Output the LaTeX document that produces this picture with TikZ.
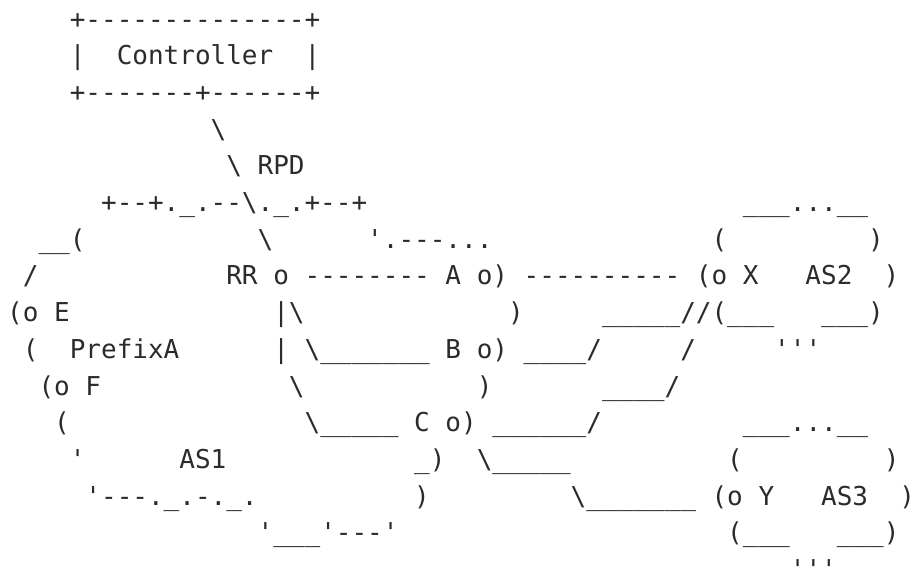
\documentclass[tikz,border=0pt]{standalone}
\usepackage{fontspec}
\newfontfamily\asciifont{DejaVu Sans Mono}[Ligatures=TeXOff]
\newdimen\cwd
\cwd=15.653pt
\newcommand\gap[1]{\hspace*{#1\cwd}}
\newcommand\bs{\textbackslash}
\newcommand\us{\_}
\definecolor{inkgray}{HTML}{2B2B2B}
\begin{document}
\begin{tikzpicture}[x=1pt,y=1pt,
  asciiline/.style={anchor=base west,inner sep=0pt,outer sep=0pt,
    font=\asciifont\fontsize{26}{30}\selectfont,text=inkgray}]
\useasboundingbox (0,0) rectangle (914,-575);
\fill[white] (0,0) rectangle (914,-575);
\begin{scope}[shift={(7.2,-28.3)},x=15.653pt,y=-36.67pt]
\node[asciiline] (r1) at (4,0) {+--------------+};
\node[asciiline] (r2) at (4,1) {|\gap{2}Controller\gap{2}|};
\node[asciiline] (r3) at (4,2) {+-------+------+};
\node[asciiline] (r4) at (13,3) {\bs};
\node[asciiline] (r5) at (14,4) {\bs\gap{1}RPD};
\node[asciiline] (r6) at (6,5) {+--+.\us.--\bs.\us.+--+\gap{24}\us\us\us...\us\us};
\node[asciiline] (r7) at (2,6) {\us\us(\gap{11}\bs\gap{6}'.---...\gap{14}(\gap{9})};
\node[asciiline] (r8) at (1,7) {/\gap{12}RR\gap{1}o\gap{1}--------\gap{1}A\gap{1}o)\gap{1}----------\gap{1}(o\gap{1}X\gap{3}AS2\gap{2})};
\node[asciiline] (r9) at (0,8) {(o\gap{1}E\gap{13}|\bs\gap{13})\gap{5}\us\us\us\us\us//(\us\us\us\gap{3}\us\us\us)};
\node[asciiline] (r10) at (1,9) {(\gap{2}PrefixA\gap{6}|\gap{1}\bs\us\us\us\us\us\us\us\gap{1}B\gap{1}o)\gap{1}\us\us\us\us/\gap{5}/\gap{5}'''};
\node[asciiline] (r11) at (2,10) {(o\gap{1}F\gap{12}\bs\gap{11})\gap{7}\us\us\us\us/};
\node[asciiline] (r12) at (3,11) {(\gap{15}\bs\us\us\us\us\us\gap{1}C\gap{1}o)\gap{1}\us\us\us\us\us\us/\gap{9}\us\us\us...\us\us};
\node[asciiline] (r13) at (4,12) {'\gap{6}AS1\gap{12}\us)\gap{2}\bs\us\us\us\us\us\gap{10}(\gap{9})};
\node[asciiline] (r14) at (5,13) {'---.\us.-.\us.\gap{10})\gap{9}\bs\us\us\us\us\us\us\us\gap{1}(o\gap{1}Y\gap{3}AS3\gap{2})};
\node[asciiline] (r15) at (16,14) {'\us\us\us'---'\gap{21}(\us\us\us\gap{3}\us\us\us)};
\node[asciiline] (r16) at (50,15) {'''};
\end{scope}
\end{tikzpicture}
\end{document}
